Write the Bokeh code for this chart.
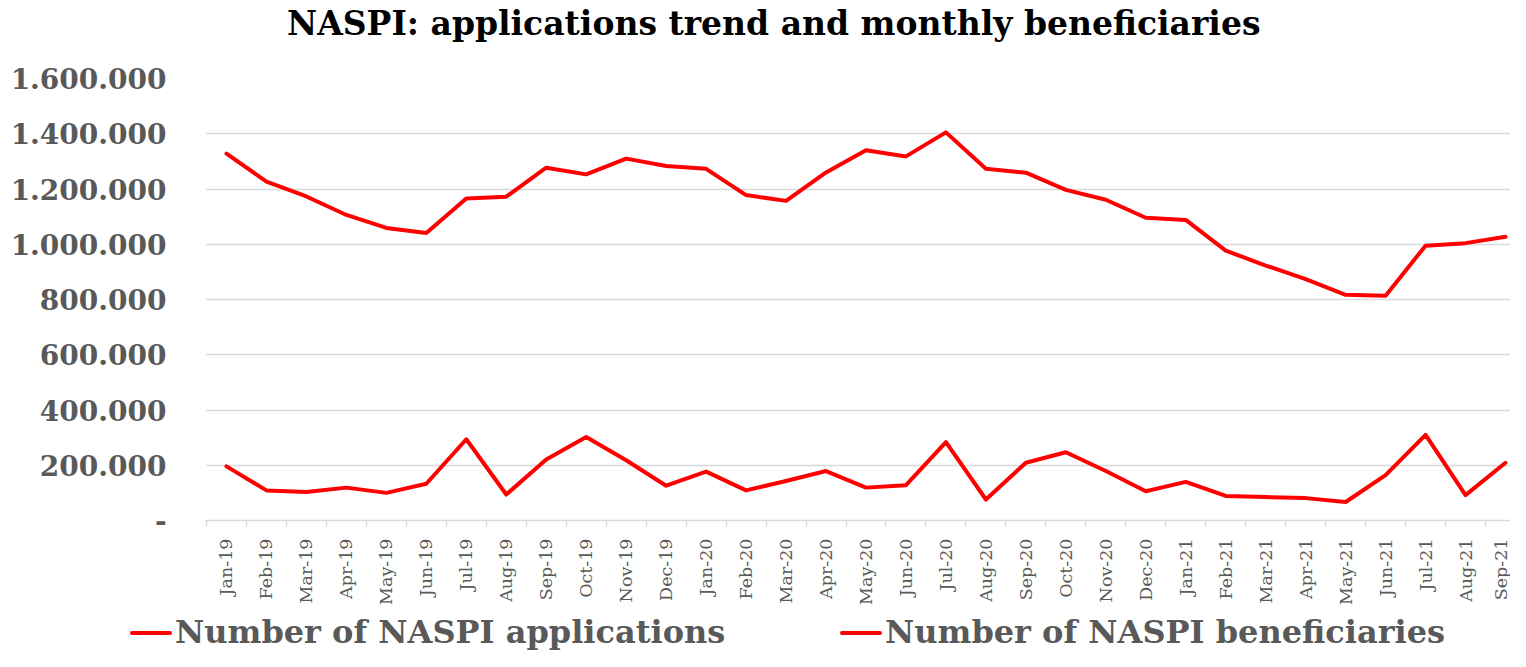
import math
from bokeh.plotting import figure
from bokeh.layouts import column
from bokeh.models import Range1d, FixedTicker, Div
from bokeh.embed import file_html
from bokeh.resources import INLINE

months = ["Jan-19", "Feb-19", "Mar-19", "Apr-19", "May-19", "Jun-19", "Jul-19", "Aug-19",
          "Sep-19", "Oct-19", "Nov-19", "Dec-19", "Jan-20", "Feb-20", "Mar-20", "Apr-20",
          "May-20", "Jun-20", "Jul-20", "Aug-20", "Sep-20", "Oct-20", "Nov-20", "Dec-20",
          "Jan-21", "Feb-21", "Mar-21", "Apr-21", "May-21", "Jun-21", "Jul-21", "Aug-21", "Sep-21"]

applications = [196000, 109000, 103000, 119000, 100000, 133000, 294000, 94000, 221000, 302000,
                218000, 126000, 177000, 109000, 143000, 179000, 119000, 128000, 284000, 76000,
                209000, 247000, 179000, 106000, 140000, 89000, 85000, 81000, 67000, 164000,
                310000, 92000, 209000]

beneficiaries = [1328000, 1227000, 1173000, 1106000, 1059000, 1041000, 1166000, 1172000,
                 1277000, 1253000, 1310000, 1283000, 1273000, 1178000, 1157000, 1260000,
                 1340000, 1318000, 1405000, 1273000, 1259000, 1197000, 1161000, 1096000,
                 1088000, 977000, 923000, 874000, 817000, 814000, 995000, 1004000, 1027000]

y_ticks = [0, 200000, 400000, 600000, 800000, 1000000, 1200000, 1400000, 1600000]
y_tick_labels = ["-", "200.000", "400.000", "600.000", "800.000", "1.000.000",
                 "1.200.000", "1.400.000", "1.600.000"]

series_names = ["Number of NASPI applications", "Number of NASPI beneficiaries"]
title_text = "NASPI: applications trend and monthly beneficiaries"

x = list(range(len(months)))
LINE_COLOR = "#ff0000"
W = 1510

# ---- title ----
title_div = Div(text=title_text, width=W, height=48, margin=(0, 0, 0, 0),
                styles={"font-family": "DejaVu Serif", "font-weight": "bold",
                        "font-size": "33px", "color": "#000000", "padding-left": "287px",
                        "line-height": "48px", "white-space": "nowrap",
                        "box-sizing": "border-box"})

# ---- chart ----
p = figure(width=W, height=562, output_backend="svg", toolbar_location=None,
           x_range=Range1d(-0.525, 32.125), y_range=Range1d(0, 1600000),
           min_border_left=205, min_border_right=0, min_border_top=30, min_border_bottom=90)

p.outline_line_color = None
p.background_fill_color = "white"
p.border_fill_color = "white"

p.xgrid.visible = False
p.ygrid.grid_line_color = "#d9d9d9"
p.ygrid.grid_line_width = 1.5

p.yaxis.ticker = FixedTicker(ticks=y_ticks)
p.yaxis.major_label_overrides = {t: l for t, l in zip(y_ticks, y_tick_labels)}
p.yaxis.axis_line_color = None
p.yaxis.major_tick_line_color = None
p.yaxis.minor_tick_line_color = None
p.yaxis.major_tick_out = 0
p.yaxis.major_tick_in = 0
p.yaxis.major_label_standoff = 39
p.yaxis.major_label_text_font = "DejaVu Serif"
p.yaxis.major_label_text_font_style = "bold"
p.yaxis.major_label_text_font_size = "28px"
p.yaxis.major_label_text_color = "#595959"

p.xaxis.ticker = FixedTicker(ticks=x, minor_ticks=[i - 0.5 for i in range(len(months) + 1)])
p.xaxis.major_label_overrides = {i: m for i, m in zip(x, months)}
p.xaxis.axis_line_color = "#d9d9d9"
p.xaxis.axis_line_width = 1.5
p.xaxis.major_tick_line_color = None
p.xaxis.major_tick_out = 0
p.xaxis.major_tick_in = 0
p.xaxis.minor_tick_line_color = "#d9d9d9"
p.xaxis.minor_tick_line_width = 1.5
p.xaxis.minor_tick_out = 6
p.xaxis.minor_tick_in = 0
p.xaxis.major_label_orientation = math.pi / 2
p.xaxis.major_label_standoff = 12
p.xaxis.major_label_text_font = "DejaVu Serif"
p.xaxis.major_label_text_font_size = "17.5px"
p.xaxis.major_label_text_color = "#595959"

p.line(x, applications, line_color=LINE_COLOR, line_width=4, line_join="round", line_cap="round")
p.line(x, beneficiaries, line_color=LINE_COLOR, line_width=4, line_join="round", line_cap="round")

# ---- legend strip ----
item_left = [130, 840]
items_html = "".join(
    f'<div style="position:absolute;left:{lx}px;top:4px;height:37px;display:flex;'
    f'align-items:center;white-space:nowrap;">'
    f'<span style="display:inline-block;width:42px;height:4px;background:{LINE_COLOR};'
    f'border-radius:2px;margin-right:3px;"></span><span>{name}</span></div>'
    for lx, name in zip(item_left, series_names))
legend_div = Div(text=f'<div style="position:relative;width:{W}px;height:41px;">{items_html}</div>',
                 width=W, height=41, margin=(0, 0, 0, 0),
                 styles={"font-family": "DejaVu Serif", "font-weight": "bold",
                         "font-size": "32px", "color": "#595959"})

layout = column(title_div, p, legend_div, spacing=0)
open("out.html", "w").write(file_html(layout, INLINE))
